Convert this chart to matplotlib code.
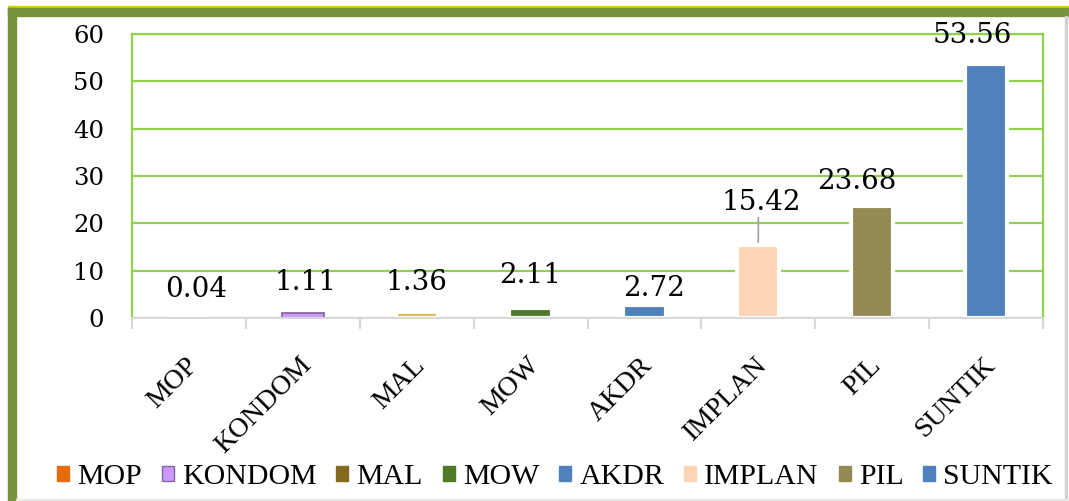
import matplotlib
matplotlib.use("Agg")
import matplotlib.pyplot as plt
import matplotlib.transforms as mtrans
from matplotlib.patches import Rectangle, Patch
import numpy as np

categories = ["MOP", "KONDOM", "MAL", "MOW", "AKDR", "IMPLAN", "PIL", "SUNTIK"]
values = [0.04, 1.11, 1.36, 2.11, 2.72, 15.42, 23.68, 53.56]
y_ticks = [0, 10, 20, 30, 40, 50, 60]

bar_colors = ["#E46C0A", "#CC99FF", "#E3B43F", "#4F7A28", "#4F81BD", "#FCD5B5", "#948A54", "#4F81BD"]
legend_colors = ["#E46C0A", "#CC99FF", "#846A1F", "#4F7A28", "#4F81BD", "#FCD5B5", "#948A54", "#4F81BD"]
# label offsets in pixels (dx, dy) from bar top
label_offsets = [(7, 28), (3, 30), (0, 29), (0, 33), (10, 17), (3, 43), (-15, 24), (-14, 29)]

W, H = 1069, 501
fig = plt.figure(figsize=(W / 100, H / 100), dpi=100)
fig.patch.set_facecolor("white")

ax = fig.add_axes([132 / W, 1 - 318 / H, (1043 - 132) / W, (318 - 34) / H])
x = np.arange(len(categories))

ax.set_ylim(0, 60)
ax.set_xlim(-0.5, len(categories) - 0.5)
ax.set_yticks(y_ticks)
ax.grid(axis="y", color="#92D050", lw=1.6, zorder=0)
ax.set_axisbelow(True)

for i, (v, c) in enumerate(zip(values, bar_colors)):
    ec = "#7F5FA0" if categories[i] == "KONDOM" else "white"
    lw = 1.2 if categories[i] == "KONDOM" else 3
    ax.bar(x[i], v, width=0.37, color=c, edgecolor=ec, linewidth=lw, zorder=2)

for i, v in enumerate(values):
    dx, dy = label_offsets[i]
    ax.annotate(f"{v:.2f}", xy=(x[i], v), xytext=(dx * 0.72, dy * 0.72),
                textcoords="offset points", ha="center", va="center",
                family="DejaVu Serif", fontsize=20, zorder=4)

# leader line for IMPLAN label
i = categories.index("IMPLAN")
ax.annotate("", xy=(x[i], values[i]), xytext=(0.03, values[i] + 6.4),
            textcoords=("offset points", "data"),
            arrowprops=dict(arrowstyle="-", color="#A0A0A0", lw=1.2))

ax.set_xticks(x)
ax.set_xticklabels(categories, rotation=45, ha="right", rotation_mode="anchor",
                   family="Liberation Serif", fontsize=20)
ax.tick_params(axis="x", which="major", length=0, pad=25)
shift = mtrans.ScaledTranslation(-4 / 100, 0, fig.dpi_scale_trans)
for t in ax.get_xticklabels():
    t.set_transform(t.get_transform() + shift)
ax.set_xticks(np.arange(-0.5, len(categories), 1), minor=True)
ax.tick_params(axis="x", which="minor", length=8, color="#D9D9D9", width=1.5)
ax.tick_params(axis="y", length=0, pad=20, labelsize=17.5)
for t in ax.get_yticklabels():
    t.set_family("DejaVu Serif")

ax.spines["bottom"].set_color("#D9D9D9")
ax.spines["bottom"].set_linewidth(1.5)
for s in ["left", "right", "top"]:
    ax.spines[s].set_color("#92D050")
    ax.spines[s].set_linewidth(1.6)

handles = []
for c, name in zip(legend_colors, categories):
    ec = "#8064A2" if name == "KONDOM" else c
    handles.append(Patch(facecolor=c, edgecolor=ec, label=name))
fig.legend(handles=handles, loc="center", bbox_to_anchor=(555 / W, 1 - 477 / H), ncol=8,
           frameon=False, handlelength=0.4, handleheight=0.37, handletextpad=0.27,
           columnspacing=0.67, borderpad=0, borderaxespad=0,
           prop={"family": "Liberation Serif", "size": 21.5})

# outer frame
fig.patches.append(Rectangle((8 / W, 1 - 7.5 / H), 1 - 8 / W, 1.5 / H, transform=fig.transFigure,
                             color="#D4D400", zorder=0))
fig.patches.append(Rectangle((8 / W, 1 - 16 / H), 1 - 8 / W, 8 / H, transform=fig.transFigure,
                             color="#77933C", zorder=1))
fig.patches.append(Rectangle((8 / W, 0), 8 / W, 1 - 8 / H, transform=fig.transFigure,
                             color="#77933C", zorder=1))
fig.patches.append(Rectangle((1065 / W, 0), 1.5 / W, 1 - 16 / H, transform=fig.transFigure,
                             color="#D0D0D0", zorder=1))
fig.patches.append(Rectangle((16 / W, 0), 1 - 16 / W, 2 / H, transform=fig.transFigure,
                             color="#E8ECE0", zorder=1))

fig.savefig("out.png", dpi=100)
